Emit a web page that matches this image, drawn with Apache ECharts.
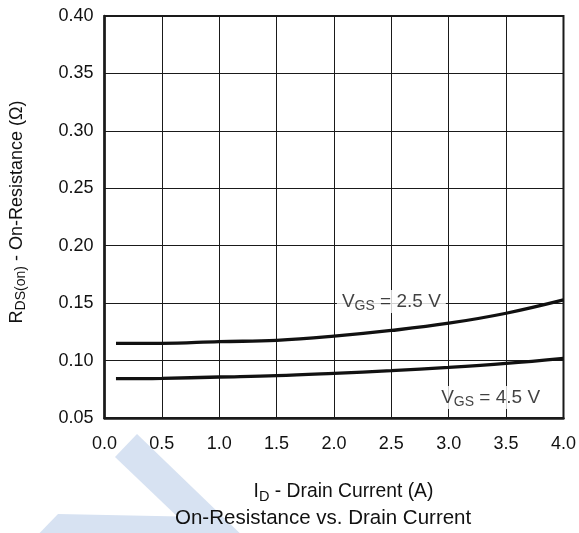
<!DOCTYPE html>
<html>
<head>
<meta charset="utf-8">
<title>On-Resistance vs. Drain Current</title>
<script src="https://cdn.jsdelivr.net/npm/echarts@6/dist/echarts.min.js"></script>
<style>
  html, body { margin: 0; padding: 0; background: #ffffff; }
  #chart { width: 579px; height: 533px; }
</style>
</head>
<body>
<div id="chart"></div>
<script>
// Drain current I_D (A)
const drainCurrent = [0.1, 0.5, 1.0, 1.5, 2.0, 2.5, 3.0, 3.5, 4.0];
// R_DS(on) (Ω) at V_GS = 2.5 V
const rdsOnVgs25 = [0.115, 0.115, 0.1165, 0.1176, 0.1212, 0.1262, 0.1325, 0.1412, 0.1528];
// R_DS(on) (Ω) at V_GS = 4.5 V
const rdsOnVgs45 = [0.0842, 0.0845, 0.0857, 0.0869, 0.0889, 0.0912, 0.0941, 0.0976, 0.1020];

// Curve labels: gate voltage and the data-space anchor of each tag
const gateVoltages = ['2.5 V', '4.5 V'];
const tagAnchorVgs25 = [2.5, 0.1514];
const tagAnchorVgs45 = [3.365, 0.0678];

// Axis ranges and tick steps
const xRange = [0, 4.0], xStep = 0.5;
const yRange = [0.05, 0.40], yStep = 0.05;

const FONT = '"Liberation Sans", Arial, Helvetica, sans-serif';
const INK = '#111111';

const pairs = (xs, ys) => xs.map((x, i) => [x, ys[i]]);

const subRich = (main, sub, line) => ({
  m: { fontFamily: FONT, fontSize: main, color: INK, lineHeight: line, verticalAlign: 'middle' },
  s: { fontFamily: FONT, fontSize: sub, color: INK, lineHeight: sub, verticalAlign: 'bottom' }
});

function tagSeries(anchor, voltage) {
  return {
    type: 'scatter',
    data: [anchor],
    symbolSize: 0,
    silent: true,
    z: 5,
    label: {
      show: true,
      position: 'inside',
      formatter: '{m|V}{s|GS}{m| = ' + voltage + '}',
      backgroundColor: '#ffffff',
      padding: [0, 5, 0, 5],
      rich: subRich(19, 14, 23)
    }
  };
}

const chart = echarts.init(document.getElementById('chart'), null, { renderer: 'canvas' });

chart.setOption({
  backgroundColor: '#ffffff',
  animation: false,
  title: {
    text: 'On-Resistance vs. Drain Current',
    left: 175,
    top: 508,
    padding: 0,
    textStyle: { fontFamily: FONT, fontSize: 20.5, fontWeight: 'normal', color: INK }
  },
  graphic: [
    {
      type: 'polygon',
      silent: true,
      z: -10,
      shape: { points: [[137, 434], [250, 543], [205, 543], [115, 457]] },
      style: { fill: '#d7e2f2' }
    },
    {
      type: 'polygon',
      silent: true,
      z: -10,
      shape: { points: [[58, 514], [205, 517], [226, 543], [30, 543]] },
      style: { fill: '#d7e2f2' }
    }
  ],
  grid: {
    left: 103,
    right: 13,
    top: 16,
    bottom: 115,
    show: true,
    borderColor: '#1a1a1a',
    borderWidth: 2,
    backgroundColor: 'transparent'
  },
  xAxis: {
    type: 'value',
    min: xRange[0],
    max: xRange[1],
    interval: xStep,
    name: '{m|I}{s|D}{m| - Drain Current (A)}',
    nameLocation: 'middle',
    nameGap: 62,
    nameTextStyle: { rich: subRich(19.3, 14.5, 24), padding: [0, 0, 0, 19] },
    axisLine: { show: true, lineStyle: { color: '#1a1a1a', width: 2.5 } },
    axisTick: { show: false },
    splitLine: { show: true, lineStyle: { color: '#1a1a1a', width: 1 } },
    axisLabel: {
      margin: 17,
      fontFamily: FONT,
      fontSize: 18,
      color: INK,
      formatter: v => v.toFixed(1)
    }
  },
  yAxis: {
    type: 'value',
    min: yRange[0],
    max: yRange[1],
    interval: yStep,
    name: '{m|R}{s|DS(on)}{m| - On-Resistance (Ω)}',
    nameLocation: 'middle',
    nameGap: 76,
    nameTextStyle: { rich: subRich(18, 14, 23), padding: [0, 0, 0, 10] },
    axisLine: { show: true, lineStyle: { color: '#1a1a1a', width: 2.5 } },
    axisTick: { show: false },
    splitLine: { show: true, lineStyle: { color: '#1a1a1a', width: 1 } },
    axisLabel: {
      margin: 11,
      fontFamily: FONT,
      fontSize: 18,
      color: INK,
      formatter: v => v.toFixed(2)
    }
  },
  series: [
    {
      name: 'VGS = 2.5 V',
      type: 'line',
      data: pairs(drainCurrent, rdsOnVgs25),
      smooth: 0.4,
      showSymbol: false,
      lineStyle: { color: INK, width: 3.3 },
      z: 3
    },
    {
      name: 'VGS = 4.5 V',
      type: 'line',
      data: pairs(drainCurrent, rdsOnVgs45),
      smooth: 0.4,
      showSymbol: false,
      lineStyle: { color: INK, width: 3.3 },
      z: 3
    },
    tagSeries(tagAnchorVgs25, gateVoltages[0]),
    tagSeries(tagAnchorVgs45, gateVoltages[1])
  ]
});
</script>
</body>
</html>
